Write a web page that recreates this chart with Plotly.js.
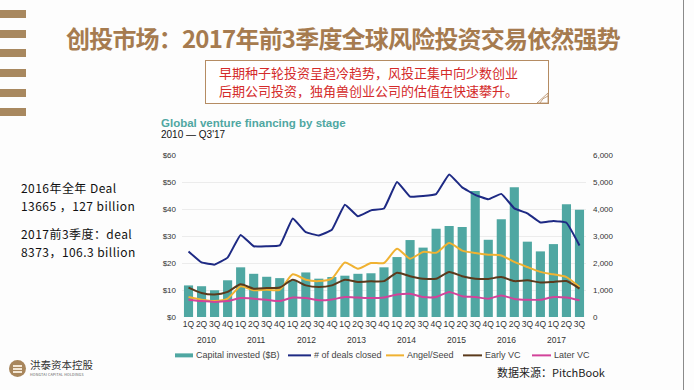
<!DOCTYPE html>
<html>
<head>
<meta charset="utf-8">
<script src="https://cdn.plot.ly/plotly-3.0.1.min.js"></script>
<style>
  html, body { margin:0; padding:0; background:#fdfdfd; }
  #slide { position:relative; width:694px; height:390px; overflow:hidden; background:#fdfdfd; font-family:"Noto Sans CJK SC","Noto Sans",sans-serif; }
  #chart { position:absolute; left:0; top:0; width:694px; height:390px; }
  .stripe { position:absolute; left:0; width:26px; height:8px; background:#a8885f; }
  .abs { position:absolute; white-space:nowrap; }
  .lt { position:absolute; left:21px; font-size:12px; letter-spacing:0.45px; color:#111; line-height:15px; white-space:nowrap; }
</style>
</head>
<body>
<div id="slide">
  <div class="stripe" style="top:10px"></div>
  <div class="stripe" style="top:30px"></div>
  <div class="stripe" style="top:49px"></div>
  <div class="stripe" style="top:69px"></div>
  <div class="stripe" style="top:89px"></div>
  <div class="stripe" style="top:108px"></div>
  <div style="position:absolute;left:683px;top:0;width:1px;height:390px;background:#8a8a8a"></div>

  <div class="abs" style="left:66px;top:22px;font-size:24px;font-weight:bold;color:#a67b4f;letter-spacing:-0.8px;line-height:32px;">创投市场：2017年前3季度全球风险投资交易依然强势</div>

  <div style="position:absolute;left:205px;top:60px;width:342px;height:42px;border:1px solid #b58c63;background:#fff;"></div>
  <svg style="position:absolute;left:536px;top:92px" width="14" height="13"><path d="M1,11 L12,1 L12,11 Z" fill="#fff" stroke="#b58c63" stroke-width="0.8"/><path d="M4,11 Q6,6 12,4" fill="none" stroke="#b58c63" stroke-width="0.8"/></svg>
  <div class="abs" style="left:219px;top:64px;font-size:13px;color:#d42a2a;line-height:18px;">早期种子轮投资呈趋冷趋势，风投正集中向少数创业</div>
  <div class="abs" style="left:219px;top:82px;font-size:13px;color:#d42a2a;line-height:18px;">后期公司投资，独角兽创业公司的估值在快速攀升。</div>

  <div class="lt" style="top:180px;">2016年全年 Deal</div>
  <div class="lt" style="top:197.5px;">13665 ，127 billion</div>
  <div class="lt" style="top:226px;">2017前3季度：deal</div>
  <div class="lt" style="top:243.5px;">8373，106.3 billion</div>

  <div style="position:absolute;left:9px;top:360px;width:17px;height:17px;border-radius:50%;background:#a8865c;"></div>
  <div style="position:absolute;left:13px;top:365px;width:9px;height:1.5px;background:#f3e6d3;"></div>
  <div style="position:absolute;left:13px;top:368px;width:9px;height:1.5px;background:#f3e6d3;"></div>
  <div style="position:absolute;left:13px;top:371px;width:9px;height:1.5px;background:#f3e6d3;"></div>
  <div class="abs" style="left:30px;top:359px;font-size:10.5px;color:#333;line-height:12px;">洪泰资本控股</div>
  <div class="abs" style="left:30px;top:373px;font-size:3.6px;color:#555;line-height:4px;letter-spacing:0.2px;">HONGTAI CAPITAL HOLDINGS</div>

  <div class="abs" style="left:497px;top:365px;font-size:11px;color:#222;line-height:14px;">数据来源：PitchBook</div>

  <div id="chart"></div>
</div>
<script>
const quarterLabels = ["1Q","2Q","3Q","4Q","1Q","2Q","3Q","4Q","1Q","2Q","3Q","4Q","1Q","2Q","3Q","4Q","1Q","2Q","3Q","4Q","1Q","2Q","3Q","4Q","1Q","2Q","3Q","4Q","1Q","2Q","3Q"];
const years = ["2010","2011","2012","2013","2014","2015","2016","2017"];
const seriesNames = ["Capital invested ($B)","# of deals closed","Angel/Seed","Early VC","Later VC"];
const seriesColors = ["#4fa7a2","#1e2a84","#f0b232","#5b3a1c","#d2439a"];
const capitalInvested = [11.7,11.4,9.9,13.6,18.4,16.0,14.9,14.4,13.5,16.5,14.2,14.8,15.3,16.0,16.2,18.4,22.2,28.5,25.7,32.7,33.7,33.3,46.7,28.6,36.2,48.1,27.9,24.3,27.0,41.8,39.7];
const dealsClosed = [2430,2020,1940,2200,3040,2620,2620,2650,3650,3140,3020,3230,4160,3730,3950,4020,5000,4460,4480,4550,5280,4800,4525,4360,4560,4025,3840,3500,3560,3490,2650];
const angelSeed = [740,640,590,680,1140,990,1010,1010,1580,1380,1330,1420,2020,1790,2000,2000,2530,2160,2410,2380,2740,2460,2370,2310,2280,2040,1850,1670,1580,1480,1110];
const earlyVC = [1090,890,830,930,1210,1050,1070,1090,1380,1170,1110,1170,1380,1300,1320,1330,1640,1510,1420,1420,1670,1510,1420,1410,1480,1330,1360,1280,1300,1330,1050];
const laterVC = [640,590,560,590,700,680,640,590,720,700,620,650,740,720,700,720,830,860,740,740,930,770,740,680,800,670,640,640,740,720,620];

const idx = quarterLabels.map((_, i) => i);
const font = "Liberation Sans, Arial, sans-serif";

const traces = [
  {type:"bar", x:idx, y:capitalInvested, name:seriesNames[0], marker:{color:seriesColors[0]}, yaxis:"y"},
  {type:"scatter", mode:"lines", x:idx, y:dealsClosed, name:seriesNames[1], line:{color:seriesColors[1], width:2, shape:"spline", smoothing:0.3}, yaxis:"y2"},
  {type:"scatter", mode:"lines", x:idx, y:angelSeed, name:seriesNames[2], line:{color:seriesColors[2], width:2, shape:"spline", smoothing:0.6}, yaxis:"y2"},
  {type:"scatter", mode:"lines", x:idx, y:earlyVC, name:seriesNames[3], line:{color:seriesColors[3], width:2, shape:"spline", smoothing:0.6}, yaxis:"y2"},
  {type:"scatter", mode:"lines", x:idx, y:laterVC, name:seriesNames[4], line:{color:seriesColors[4], width:2, shape:"spline", smoothing:0.6}, yaxis:"y2"}
];

const plotL = 182, plotR = 586, plotT = 155, plotB = 316.7;
const pw = plotR - plotL, ph = plotB - plotT;
const px = v => (v - plotL) / pw;
const py = v => (plotB - v) / ph;

const yearAnn = years.map((yr, i) => ({
  text: yr, xref:"paper", yref:"paper", x: px(206 + i * 50), y: py(340),
  xanchor:"center", yanchor:"middle", showarrow:false,
  font:{family:font, size:8.5, color:"#333"}
}));

// manual legend layout (pixel positions of swatch start/end)
const legSwatch = [[175,193],[288,311],[386,404],[463,482],[532,551]];
const legY = 355;
const legShapes = legSwatch.map((s, i) => ({
  type:"line", xref:"paper", yref:"paper", x0:px(s[0]), x1:px(s[1]), y0:py(legY), y1:py(legY),
  line:{color:seriesColors[i], width: i === 0 ? 4 : 2}
}));
const legAnn = legSwatch.map((s, i) => ({
  text: seriesNames[i], xref:"paper", yref:"paper", x:px(s[1] + 1), y:py(legY),
  xanchor:"left", yanchor:"middle", showarrow:false, font:{family:font, size:9, color:"#444"}
}));

const layout = {
  width:694, height:390,
  margin:{l:plotL, r:694 - plotR, t:plotT, b:390 - plotB, pad:0},
  paper_bgcolor:"rgba(0,0,0,0)", plot_bgcolor:"rgba(0,0,0,0)",
  bargap:0.3,
  showlegend:false,
  xaxis:{range:[-0.5, 30.5], tickmode:"array", tickvals:idx, ticktext:quarterLabels, showgrid:false, zeroline:false,
         ticks:"", tickangle:0, tickfont:{family:font, size:8.5, color:"#333"}, showline:false},
  yaxis:{range:[0, 60], tickvals:[0,10,20,30,40,50,60], ticktext:["$0","$10","$20","$30","$40","$50","$60"],
         showgrid:true, gridcolor:"#ececec", gridwidth:1, zeroline:false, ticks:"", ticklabelstandoff:5,
         tickfont:{family:font, size:8, color:"#333"}},
  yaxis2:{range:[0, 6000], overlaying:"y", side:"right", tickvals:[0,1000,2000,3000,4000,5000,6000],
          ticktext:["0","1,000","2,000","3,000","4,000","5,000","6,000"], showgrid:false, zeroline:false, ticks:"",
          ticklabelstandoff:6, tickfont:{family:font, size:8, color:"#333"}},
  shapes: legShapes,
  annotations:[
    {text:"<b>Global venture financing by stage</b>", xref:"paper", yref:"paper", x:px(159), y:py(123),
     xanchor:"left", yanchor:"middle", showarrow:false, font:{family:font, size:11.5, color:"#4fa7a2"}},
    {text:"2010 — Q3'17", xref:"paper", yref:"paper", x:px(159), y:py(135),
     xanchor:"left", yanchor:"middle", showarrow:false, font:{family:font, size:10, color:"#111"}}
  ].concat(yearAnn, legAnn)
};

Plotly.newPlot("chart", traces, layout, {displayModeBar:false, staticPlot:true});
</script>
</body>
</html>
